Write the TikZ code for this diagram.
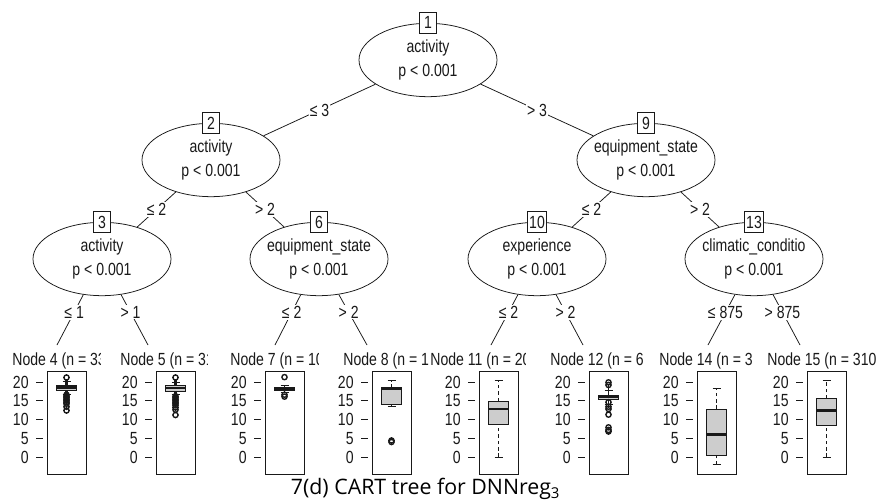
\documentclass[tikz,border=0pt]{standalone}
\usepackage{fontspec}
\setmainfont{Liberation Sans}[FakeStretch=0.8]
\newfontfamily\capfont{Open Sans}
\usetikzlibrary{shapes.geometric}

\definecolor{boxgray}{RGB}{205,205,205}

\tikzset{
  split/.style={ellipse, draw, fill=white, inner sep=0pt, minimum width=4.14cm, minimum height=2.2cm},
  idbox/.style={draw, fill=white, inner sep=1.5pt, minimum width=0.5cm, minimum height=0.64cm},
  elab/.style={fill=white, inner sep=1pt},
  ttl/.style={anchor=base west, inner sep=0pt},
  axlab/.style={anchor=east, inner sep=0pt},
  whisk/.style={dash pattern=on 3pt off 2.5pt},
  med/.style={line width=2.4pt},
  outlc/.style={line width=1.2pt},
}

% inner split node: name, position, id, variable
\newcommand{\splitnode}[4]{%
  \node[split, label={[align=center]center:#4\\p < 0.001}] (#1) at (#2) {};
  \node[idbox] (#1id) at (#1.north) {#3};
}
% terminal panel: name, text x, box left, title
\newcommand{\termpanel}[4]{%
  \node[ttl] (#1) at (#2,365) {#4};
  \draw (#3,371) rectangle ++(39,103);
  \foreach \v in {0,5,...,20}{
    \draw ({#3-11},{457-3.75*\v}) -- ({#3-4},{457-3.75*\v});
    \node[axlab] (#1y\v) at ({#3-18},{457-3.75*\v}) {\v};
  }
}
% cut the last digit of a title
\newcommand{\cutend}[2]{\fill[white] ([xshift=-#2]#1.south east) rectangle ([xshift=1pt,yshift=0.05cm]#1.north east);}
% boxplot: x, low cap, q1, median, q3, high cap
\newcommand{\boxpl}[6]{%
  \draw[whisk] (#1,{457-3.75*(#2)}) -- (#1,{457-3.75*(#3)});
  \draw[whisk] (#1,{457-3.75*(#5)}) -- (#1,{457-3.75*(#6)});
  \draw ({#1-4},{457-3.75*(#2)}) -- ({#1+4},{457-3.75*(#2)});
  \draw ({#1-4},{457-3.75*(#6)}) -- ({#1+4},{457-3.75*(#6)});
  \filldraw[fill=boxgray] ({#1-10},{457-3.75*(#3)}) rectangle ({#1+10},{457-3.75*(#5)});
  \draw[med] ({#1-10},{457-3.75*(#4)}) -- ({#1+10},{457-3.75*(#4)});
}
\newcommand{\outl}[2]{\foreach \o in {#2} \draw[outlc] (#1,{457-3.75*\o}) circle (2.6);}

\begin{document}
\begin{tikzpicture}[x=0.03cm, y=-0.03cm, font=\fontsize{15}{20.4}\selectfont, line width=0.65pt, color=black!90]
\useasboundingbox (0,0) rectangle (882,502);

% inner nodes
\splitnode{n1}{428,60}{1}{activity}
\splitnode{n2}{211,160}{2}{activity}
\splitnode{n9}{646,160}{9}{equipment\_state}
\splitnode{n3}{102,259}{3}{activity}
\splitnode{n6}{319,259}{6}{equipment\_state}
\splitnode{n10}{537,259}{10}{experience}
\splitnode{n13}{754,259}{13}{climatic\_conditio}

% tops of the terminal panels
\coordinate (t4) at (57,345);
\coordinate (t5) at (148,345);
\coordinate (t7) at (275,345);
\coordinate (t8) at (367,345);
\coordinate (t11) at (491,345);
\coordinate (t12) at (583,345);
\coordinate (t14) at (708,345);
\coordinate (t15) at (800,345);

% edges
\draw (n1) -- node[elab] (l2) {≤ 3} (n2);
\draw (n1) -- node[elab] (l9) {> 3} (n9);
\draw (n2) -- node[elab] (l3) {≤ 2} (n3);
\draw (n2) -- node[elab] (l6) {> 2} (n6);
\draw (n9) -- node[elab] (l10) {≤ 2} (n10);
\draw (n9) -- node[elab] (l13) {> 2} (n13);
\draw (n3) -- node[elab, pos=0.35] (l4) {≤ 1} (t4);
\draw (n3) -- node[elab, pos=0.35] (l5) {> 1} (t5);
\draw (n6) -- node[elab, pos=0.35] (l7) {≤ 2} (t7);
\draw (n6) -- node[elab, pos=0.35] (l8) {> 2} (t8);
\draw (n10) -- node[elab, pos=0.35] (l11) {≤ 2} (t11);
\draw (n10) -- node[elab, pos=0.35] (l12) {> 2} (t12);
\draw (n13) -- node[elab, pos=0.35] (l14) {≤ 875} (t14);
\draw (n13) -- node[elab, pos=0.35] (l15) {> 875} (t15);

% terminal panels
\termpanel{p4}{12}{47}{Node 4 (n = 33}
\cutend{p4}{0.15cm}
\draw[line width=2pt] (66.5,{457-3.75*20.6}) -- (66.5,{457-3.75*14.4});
\boxpl{66.5}{16.8}{17.8}{18.6}{19.2}{20.2}
\outl{66.5}{21.2,16.6,16.2,15.8,15.4,15.0,14.6,14.2,13.4,12.4}

\termpanel{p5}{120}{156}{Node 5 (n = 31}
\cutend{p5}{0.17cm}
\draw[line width=2pt] (175.5,{457-3.75*20.6}) -- (175.5,{457-3.75*13.6});
\boxpl{175.5}{16.6}{17.6}{18.4}{19.0}{20.0}
\outl{175.5}{21.2,16.2,15.8,15.4,15.0,14.6,14.2,13.8,13.2,12.6,11.2}

\termpanel{p7}{230}{265}{Node 7 (n = 10}
\cutend{p7}{0.14cm}
\boxpl{284.5}{17.3}{17.7}{18.1}{18.5}{19.0}
\outl{284.5}{21.3,16.6,16.1}

\termpanel{p8}{343}{372}{Node 8 (n = 1}
\boxpl{391.5}{13.6}{13.9}{18.3}{18.5}{20.3}
\outl{391.5}{4.4,4.0}

\termpanel{p11}{430}{479}{Node 11 (n = 20}
\cutend{p11}{0.14cm}
\boxpl{498.5}{0}{8.8}{12.8}{14.9}{20.3}

\termpanel{p12}{550}{589}{Node 12 (n = 6}
\draw[line width=1.6pt] (608.5,{457-3.75*19.6}) -- (608.5,{457-3.75*13.2});
\boxpl{608.5}{14.0}{15.4}{16.0}{16.5}{17.8}
\outl{608.5}{19.9,19.2,14.6,13.4,12.8,11.3,7.9,7.2,6.8}

\termpanel{p14}{659}{697}{Node 14 (n = 3}
\boxpl{716.5}{-2.1}{0.3}{6.1}{12.8}{18.4}

\termpanel{p15}{767}{807}{Node 15 (n = 310}
\boxpl{826.5}{0}{8.3}{12.3}{15.5}{20.3}

% caption
\node[font=\capfont\fontsize{18.2}{20}\selectfont, inner sep=0pt, color=black] (cap) at (425.5,489) {7(d) CART tree for DNNreg\textsubscript{3}};
\end{tikzpicture}
\end{document}
